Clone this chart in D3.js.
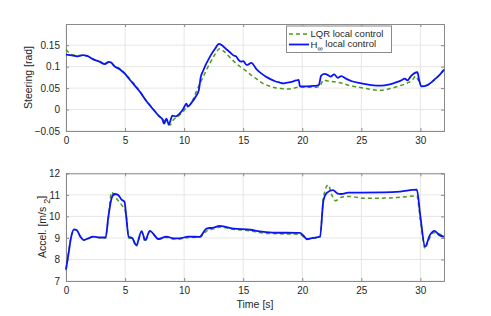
<!DOCTYPE html>
<html>
<head>
<meta charset="utf-8">
<script src="https://cdn.jsdelivr.net/npm/d3@7"></script>
<style>
  body { margin: 0; background: #fff; }
  text { font-family: "Liberation Sans", Arial, sans-serif; fill: #262626; }
</style>
</head>
<body>
<script>
// chart size
var width = 491;
var height = 316;

// ---- data ----
var xTicks = [0, 5, 10, 15, 20, 25, 30];
var steerTicks = [-0.05, 0, 0.05, 0.1, 0.15];
var accelTicks = [7, 8, 9, 10, 11, 12];
var seriesNames = ["LQR local control", "H\u221E local control"];

// steering, H-infinity
var steerHinfT = [0, 0.6, 1.0, 1.4, 1.8, 2.3, 2.8, 3.3, 3.6, 3.8, 4.1, 4.6, 5.0, 5.3, 5.7, 6.0, 6.3, 6.8, 7.1, 7.4, 7.9, 8.15, 8.3, 8.5, 8.7, 8.85, 9.0, 9.3, 9.6, 9.9, 10.2, 10.3, 10.6, 11.0, 11.25, 11.4, 11.6, 12.2, 12.6, 12.95, 13.2, 13.6, 13.9, 14.2, 14.4, 14.6, 14.8, 15.0, 15.3, 15.7, 16.1, 16.5, 16.9, 17.3, 17.7, 18.1, 18.4, 18.6, 19.0, 19.5, 19.7, 19.8, 20.4, 21.0, 21.4, 21.6, 21.9, 22.2, 22.4, 22.7, 23.0, 23.3, 23.7, 24.2, 25.0, 25.6, 26.3, 26.7, 27.3, 27.8, 28.3, 28.7, 28.9, 29.2, 29.5, 29.75, 29.9, 30.1, 30.6, 31.2, 31.6, 32];
var steerHinf = [0.128, 0.126, 0.124, 0.127, 0.125, 0.117, 0.112, 0.106, 0.111, 0.110, 0.101, 0.093, 0.083, 0.073, 0.060, 0.050, 0.040, 0.020, 0.010, 0.000, -0.016, -0.022, -0.033, -0.021, -0.035, -0.025, -0.014, -0.016, -0.010, 0.000, 0.014, 0.007, 0.015, 0.031, 0.046, 0.075, 0.090, 0.124, 0.141, 0.153, 0.150, 0.140, 0.133, 0.126, 0.124, 0.116, 0.112, 0.113, 0.104, 0.109, 0.095, 0.085, 0.077, 0.071, 0.066, 0.063, 0.061, 0.062, 0.064, 0.068, 0.069, 0.054, 0.054, 0.055, 0.057, 0.079, 0.083, 0.080, 0.077, 0.082, 0.074, 0.078, 0.072, 0.066, 0.061, 0.058, 0.056, 0.056, 0.058, 0.062, 0.067, 0.072, 0.068, 0.078, 0.085, 0.087, 0.068, 0.054, 0.057, 0.070, 0.080, 0.093];

// steering, LQR
var steerLqrT = [0, 0.5, 1.0, 1.5, 2.0, 2.5, 3.0, 3.4, 3.7, 4.1, 4.6, 5.0, 5.5, 6.0, 6.5, 7.0, 7.5, 8.0, 8.5, 8.8, 9.1, 9.65, 10.2, 10.6, 11.05, 11.5, 12.2, 12.6, 13.0, 13.4, 13.9, 14.3, 14.7, 15.1, 15.6, 16.1, 16.6, 17.1, 17.7, 18.2, 18.7, 19.2, 19.6, 20.0, 20.6, 21.2, 21.5, 21.8, 22.1, 22.7, 23.3, 24.0, 24.6, 25.2, 25.8, 26.4, 27.0, 27.6, 28.2, 28.9, 29.3, 29.6, 29.8, 30.1, 30.6, 31.2, 31.6, 32];
var steerLqr = [0.140, 0.128, 0.126, 0.126, 0.122, 0.115, 0.111, 0.108, 0.110, 0.102, 0.094, 0.084, 0.068, 0.052, 0.032, 0.013, -0.003, -0.018, -0.030, -0.036, -0.024, -0.012, 0.004, 0.015, 0.043, 0.070, 0.109, 0.128, 0.142, 0.135, 0.121, 0.110, 0.101, 0.093, 0.082, 0.072, 0.062, 0.056, 0.051, 0.049, 0.048, 0.049, 0.052, 0.052, 0.052, 0.052, 0.055, 0.069, 0.067, 0.065, 0.062, 0.056, 0.053, 0.050, 0.047, 0.045, 0.046, 0.050, 0.055, 0.062, 0.068, 0.078, 0.070, 0.054, 0.057, 0.070, 0.080, 0.093];

// acceleration, H-infinity
var accelHinfT = [0, 0.2, 0.42, 0.68, 0.9, 1.2, 1.5, 1.9, 2.3, 2.9, 3.35, 3.58, 3.86, 4.1, 4.4, 4.7, 4.95, 5.1, 5.3, 5.6, 5.95, 6.4, 6.7, 7.1, 7.5, 7.8, 8.5, 9.1, 9.6, 10.35, 11.3, 11.9, 12.5, 13.0, 13.6, 14.2, 15.6, 16.4, 17.5, 19.8, 20.1, 20.4, 20.9, 21.5, 21.8, 22.1, 22.6, 23.0, 23.3, 23.9, 24.9, 26.9, 28.3, 29.7, 30.0, 30.4, 30.8, 31.2, 31.6, 32];
var accelHinf = [7.54, 8.21, 9.0, 9.4, 9.37, 9.08, 8.9, 8.98, 9.06, 9.02, 9.02, 9.95, 10.84, 11.04, 11.0, 10.78, 10.68, 10.0, 9.06, 9.0, 8.67, 9.32, 8.9, 9.33, 9.12, 8.95, 9.06, 8.98, 8.98, 9.06, 9.05, 9.43, 9.48, 9.56, 9.5, 9.43, 9.38, 9.3, 9.25, 9.23, 9.1, 8.95, 9.0, 9.06, 10.76, 11.1, 11.22, 11.06, 11.04, 11.1, 11.1, 11.11, 11.15, 11.24, 10.0, 8.6, 9.13, 9.33, 9.13, 9.06];

// acceleration, LQR
var accelLqrT = [0, 0.2, 0.42, 0.68, 0.9, 1.2, 1.5, 1.9, 2.3, 2.9, 3.35, 3.58, 3.86, 4.1, 4.5, 4.75, 5.0, 5.15, 5.3, 5.6, 5.95, 6.4, 6.7, 7.1, 7.5, 7.8, 8.5, 9.1, 9.6, 10.35, 11.3, 11.9, 12.5, 13.0, 14.2, 15.6, 16.4, 17.5, 19.8, 20.4, 20.9, 21.5, 21.8, 22.2, 22.5, 22.8, 23.3, 24.0, 25.4, 27.0, 28.3, 29.7, 30.0, 30.4, 30.7, 31.1, 31.6, 32];
var accelLqr = [7.5, 8.3, 9.0, 9.38, 9.36, 9.06, 8.9, 8.98, 9.05, 9.0, 9.0, 9.9, 11.12, 10.95, 10.68, 10.5, 10.3, 9.8, 9.0, 8.98, 8.6, 9.28, 8.82, 9.3, 9.1, 8.94, 9.02, 8.95, 8.95, 9.02, 9.03, 9.32, 9.42, 9.5, 9.4, 9.33, 9.25, 9.2, 9.17, 8.93, 8.98, 9.04, 10.9, 11.46, 11.0, 10.73, 10.89, 10.92, 10.84, 10.85, 10.89, 10.95, 9.84, 8.5, 8.9, 9.24, 9.2, 8.98];

var lqrColor = "#4e9a1e";
var hinfColor = "#0a14f5";

var svg = d3.select("body").append("svg")
    .attr("width", width)
    .attr("height", height);

var x = d3.scaleLinear().domain([0, 32]).range([66, 444]);

// one axes box (MATLAB style: grid, box, inward ticks)
function drawPanel(top, bottom, domain, ticks, fmt) {
  var y = d3.scaleLinear().domain(domain).range([bottom, top]);
  var g = svg.append("g");

  // grid
  g.selectAll(".gx").data(xTicks).enter().append("line")
    .attr("x1", function(d) { return x(d); }).attr("x2", function(d) { return x(d); })
    .attr("y1", top).attr("y2", bottom)
    .style("stroke", "#e6e6e6").style("stroke-width", 1);
  g.selectAll(".gy").data(ticks).enter().append("line")
    .attr("x1", 66).attr("x2", 444)
    .attr("y1", function(d) { return y(d); }).attr("y2", function(d) { return y(d); })
    .style("stroke", "#e6e6e6").style("stroke-width", 1);

  // axes with inward ticks
  var bottomAxis = d3.axisBottom(x).tickValues(xTicks).tickSize(-3).tickPadding(6).tickFormat(d3.format("d"));
  var topAxis = d3.axisTop(x).tickValues(xTicks).tickSize(-3).tickFormat("");
  var leftAxis = d3.axisLeft(y).tickValues(ticks).tickSize(-3).tickPadding(6).tickFormat(fmt);
  var rightAxis = d3.axisRight(y).tickValues(ticks).tickSize(-3).tickFormat("");

  g.append("g").attr("transform", "translate(0," + bottom + ")").call(bottomAxis);
  g.append("g").attr("transform", "translate(0," + top + ")").call(topAxis);
  g.append("g").attr("transform", "translate(66,0)").call(leftAxis);
  g.append("g").attr("transform", "translate(444,0)").call(rightAxis);

  g.selectAll(".domain").style("stroke", "#8a8a8a");
  g.selectAll(".tick line").style("stroke", "#8a8a8a");
  g.selectAll(".tick text").style("font-size", "10px").style("fill", "#262626")
    .style("font-family", "'Liberation Sans', Arial, sans-serif");

  return y;
}

function drawLine(y, ts, vs, color, dashed) {
  var pts = ts.map(function(t, i) { return [t, vs[i]]; });
  var line = d3.line()
    .x(function(d) { return x(d[0]); })
    .y(function(d) { return y(d[1]); })
    .curve(d3.curveMonotoneX);
  svg.append("path")
    .datum(pts)
    .attr("d", line)
    .style("fill", "none")
    .style("stroke", color)
    .style("stroke-width", dashed ? 1.5 : 1.8)
    .style("stroke-dasharray", dashed ? "4,3" : null);
}

// top: steering
var ySteer = drawPanel(24, 131, [-0.05, 0.1995], steerTicks, function(d) { return d3.format("")(+d.toFixed(2)); });
drawLine(ySteer, steerLqrT, steerLqr, lqrColor, true);
drawLine(ySteer, steerHinfT, steerHinf, hinfColor, false);

// bottom: acceleration
var yAccel = drawPanel(173.3, 281, [7, 12], accelTicks, d3.format("d"));
drawLine(yAccel, accelLqrT, accelLqr, lqrColor, true);
drawLine(yAccel, accelHinfT, accelHinf, hinfColor, false);

// axis labels
svg.append("text")
  .attr("transform", "translate(32,77.5) rotate(-90)")
  .attr("text-anchor", "middle")
  .style("font-size", "10.5px")
  .text("Steering [rad]");

var accLab = svg.append("text")
  .attr("transform", "translate(46,227) rotate(-90)")
  .attr("text-anchor", "middle")
  .style("font-size", "10.5px");
accLab.append("tspan").text("Accel. [m/s ");
accLab.append("tspan").attr("dy", "0.45em").style("font-size", "9px").text("2");
accLab.append("tspan").attr("dy", "-0.45em").text("]");

svg.append("text")
  .attr("x", 255).attr("y", 308)
  .attr("text-anchor", "middle")
  .style("font-size", "10.5px")
  .text("Time [s]");

// legend
var legend = svg.append("g");
legend.append("rect")
  .attr("x", 286.5).attr("y", 26)
  .attr("width", 105).attr("height", 26.5)
  .style("fill", "#fff").style("stroke", "#8a8a8a").style("stroke-width", 1);

var legendColors = [lqrColor, hinfColor];
var rows = legend.selectAll(".row").data(seriesNames).enter().append("g")
  .attr("transform", function(d, i) { return "translate(0," + (34 + i * 10.5) + ")"; });

rows.append("line")
  .attr("x1", 289).attr("x2", 309)
  .style("stroke", function(d, i) { return legendColors[i]; })
  .style("stroke-width", function(d, i) { return i == 0 ? 1.5 : 1.8; })
  .style("stroke-dasharray", function(d, i) { return i == 0 ? "4,3" : null; });

rows.each(function(d, i) {
  var t = d3.select(this).append("text")
    .attr("x", 310.5).attr("y", 3.3)
    .style("font-size", "9.5px");
  if (i == 0) {
    t.text(d);
  } else {
    t.append("tspan").text("H");
    t.append("tspan").attr("dy", "0.4em").style("font-size", "7.5px").text("\u221E");
    t.append("tspan").attr("dy", "-0.4em").text(" local control");
  }
});
</script>
</body>
</html>
